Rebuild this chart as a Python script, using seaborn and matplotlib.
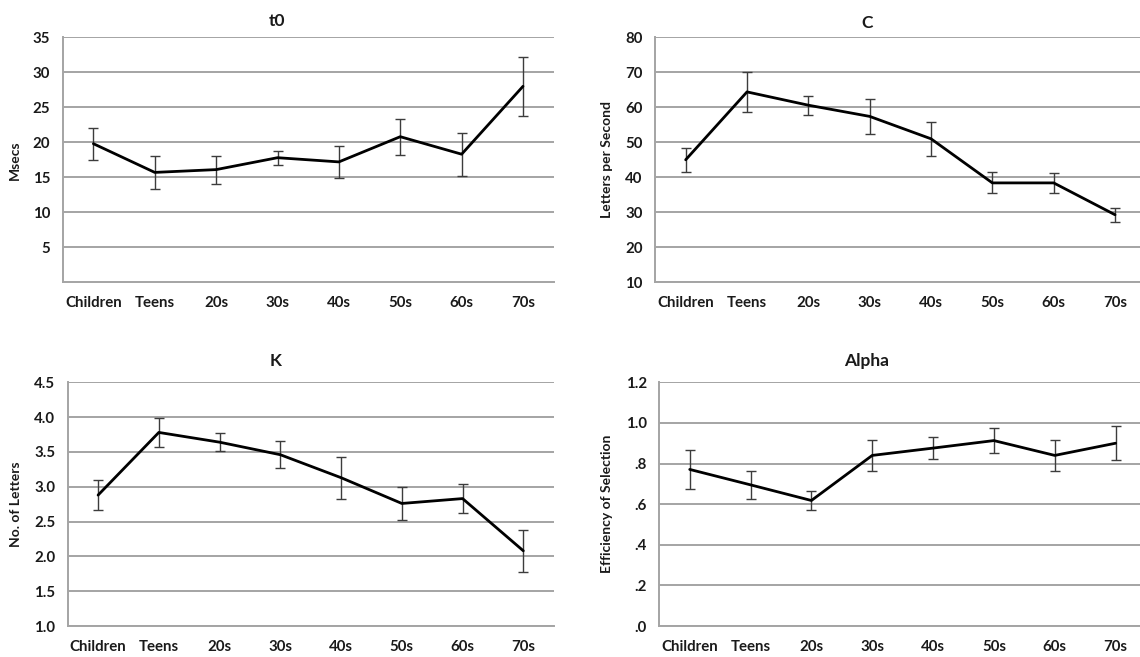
import numpy as np
import pandas as pd
import matplotlib
matplotlib.use('Agg')
import matplotlib.pyplot as plt
import seaborn as sns

# Age groups on the x axis
groups = ['Children', 'Teens', '20s', '30s', '40s', '50s', '60s', '70s']

# t0 (msecs)
t0_mean = [19.8, 15.7, 16.1, 17.8, 17.2, 20.8, 18.3, 28.0]
t0_err = [2.3, 2.4, 2.0, 1.0, 2.3, 2.6, 3.1, 4.2]

# C (letters per second)
c_mean = [45.0, 64.4, 60.6, 57.4, 51.0, 38.4, 38.4, 29.3]
c_err = [3.5, 5.8, 2.7, 4.9, 4.8, 3.0, 2.8, 2.0]

# K (number of letters)
k_mean = [2.88, 3.78, 3.64, 3.46, 3.13, 2.76, 2.83, 2.08]
k_err = [0.22, 0.21, 0.13, 0.19, 0.30, 0.24, 0.21, 0.30]

# Alpha (efficiency of selection)
alpha_mean = [0.771, 0.695, 0.618, 0.840, 0.876, 0.913, 0.840, 0.900]
alpha_err = [0.095, 0.068, 0.048, 0.075, 0.055, 0.063, 0.075, 0.085]

sns.set_style('white')
plt.rcParams['font.family'] = ['Lato', 'DejaVu Sans']
plt.rcParams['font.weight'] = 'bold'

GRID = '#a4a4a4'
TEXT = '#1a1a1a'

W, H = 1140, 657
fig = plt.figure(figsize=(W / 100, H / 100), dpi=100)


def px_axes(left, top, right, bottom):
    """Axes placed from pixel edges of the reference."""
    return fig.add_axes([left / W, 1 - bottom / H, (right - left) / W, (bottom - top) / H])


def panel(ax, mean, err, ylim, yticks, yticklabels, ylabel, ylabel_px, title, title_px):
    x = np.arange(len(groups))
    df = pd.DataFrame({'pos': x, 'value': mean})

    # Error bars first so the line sits on top
    ax.errorbar(x, mean, yerr=err, fmt='none', ecolor='#3c3c3c',
                elinewidth=1.0, capsize=3.6, capthick=1.0, zorder=3)
    sns.lineplot(data=df, x='pos', y='value', ax=ax, color='black',
                 linewidth=2.0, zorder=4)

    ax.set_xlim(-0.5, len(groups) - 0.5)
    ax.set_ylim(*ylim)

    # Category boundaries get the small tick marks, labels sit in between
    ax.set_xticks(np.arange(-0.5, len(groups)), labels=[''] * (len(groups) + 1))
    ax.set_xticks(x, labels=groups, minor=True)
    ax.tick_params(axis='x', which='major', length=3, width=1, color=GRID, direction='out')
    ax.tick_params(axis='x', which='minor', length=0, pad=10, labelsize=10.8, labelcolor=TEXT)

    ax.set_yticks(yticks, labels=yticklabels)
    ax.tick_params(axis='y', length=3, width=1, color=GRID, direction='out',
                   pad=6, labelsize=10.8, labelcolor=TEXT)

    ax.grid(axis='y', color=GRID, linewidth=1.4)
    ax.grid(axis='x', visible=False)
    for side in ['top', 'right']:
        ax.spines[side].set_visible(False)
    for side in ['left', 'bottom']:
        ax.spines[side].set_color(GRID)
        ax.spines[side].set_linewidth(1.4)

    ax.set_xlabel('')
    ax.set_ylabel(ylabel, fontsize=10, fontweight='bold', color=TEXT)
    bbox = ax.get_position()
    ax.yaxis.set_label_coords((ylabel_px / W - bbox.x0) / bbox.width, 0.5)

    fig.text(title_px[0] / W, 1 - title_px[1] / H, title, ha='center', va='center',
             fontsize=12.5, fontweight='bold', color=TEXT)


ax_t0 = px_axes(62.7, 37.3, 553.7, 282.3)
panel(ax_t0, t0_mean, t0_err, (0, 35), [5, 10, 15, 20, 25, 30, 35],
      ['5', '10', '15', '20', '25', '30', '35'], 'Msecs', 21, 't0', (277, 21))

ax_c = px_axes(655, 37.3, 1145.7, 282.3)
panel(ax_c, c_mean, c_err, (10, 80), [10, 20, 30, 40, 50, 60, 70, 80],
      ['10', '20', '30', '40', '50', '60', '70', '80'], 'Letters per Second', 613,
      'C', (867, 23))

ax_k = px_axes(67.7, 382.3, 553.7, 626)
panel(ax_k, k_mean, k_err, (1.0, 4.5), [1.0, 1.5, 2.0, 2.5, 3.0, 3.5, 4.0, 4.5],
      ['1.0', '1.5', '2.0', '2.5', '3.0', '3.5', '4.0', '4.5'], 'No. of Letters', 22,
      'K', (276, 361))

ax_a = px_axes(659.3, 382.3, 1146, 626)
panel(ax_a, alpha_mean, alpha_err, (0, 1.2), [0, 0.2, 0.4, 0.6, 0.8, 1.0, 1.2],
      ['.0', '.2', '.4', '.6', '.8', '1.0', '1.2'], 'Efficiency of Selection', 613,
      'Alpha', (867, 361))

fig.savefig('out.png', dpi=100, facecolor='white')
